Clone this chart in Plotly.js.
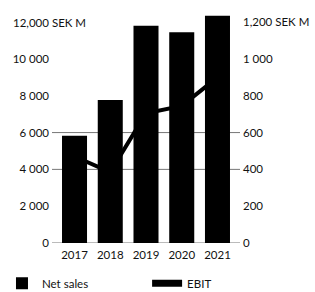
<!DOCTYPE html>
<html><head><meta charset="utf-8">
<script src="https://cdn.plot.ly/plotly-3.0.1.min.js"></script>
<style>html,body{margin:0;padding:0;background:#fff}#chart{width:315px;height:292px}</style>
</head><body><div id="chart"></div>
<script>
const years = ['2017','2018','2019','2020','2021'];
const netSales = [5830, 7770, 11800, 11450, 12350];
const ebit = [470, 385, 705, 745, 900];
const leftTickVals = [0, 2000, 4000, 6000, 8000, 10000];
const leftTickText = ['0', '2 000', '4 000', '6 000', '8 000', '10 000'];
const rightTickVals = [0, 200, 400, 600, 800, 1000, 1200];
const rightTickText = ['0', '200', '400', '600', '800', '1 000', '1,200 SEK M'];
const leftTopLabel = '12,000 SEK M';
const strongGrid = [0, 4000, 6000];

const font = {family: 'Lato, "Open Sans", sans-serif', size: 11.5, color: '#111'};

const traces = [
  {type: 'bar', x: years, y: netSales, name: 'Net sales', marker: {color: '#000'}, width: 0.7, yaxis: 'y', hoverinfo: 'none', legend: 'legend'},
  {type: 'scatter', mode: 'lines', x: years, y: ebit, name: 'EBIT', yaxis: 'y2', line: {color: '#000', width: 4}, showlegend: false, hoverinfo: 'none'},
  {type: 'scatter', mode: 'lines', x: years, y: years.map(() => null), name: 'EBIT', yaxis: 'y2', line: {color: '#000', width: 7}, legend: 'legend2'}
];

const legendBase = {orientation: 'h', xref: 'container', yref: 'container', xanchor: 'left', y: 0.03, yanchor: 'middle', font: font, itemwidth: 30, bgcolor: 'rgba(0,0,0,0)'};

const layout = {
  width: 315, height: 292,
  margin: {l: 52, r: 75, t: 10, b: 49},
  paper_bgcolor: '#fff', plot_bgcolor: '#fff',
  font: font,
  showlegend: true,
  barmode: 'overlay',
  xaxis: {type: 'category', range: [-0.63, 4.63], showgrid: false, zeroline: false, showline: false, ticks: '', tickfont: font, ticklabelstandoff: 3},
  yaxis: {range: [0, 12660], tickvals: leftTickVals, ticktext: leftTickText, showgrid: false, zeroline: false, showline: false, ticks: '', tickfont: font, ticklabelstandoff: 2},
  yaxis2: {range: [0, 1266], overlaying: 'y', side: 'right', tickvals: rightTickVals, ticktext: rightTickText, showgrid: false, zeroline: false, showline: false, ticks: '', tickfont: font, ticklabelstandoff: 2},
  shapes: strongGrid.map(v => ({type: 'line', xref: 'paper', yref: 'y', x0: 0, x1: 1, y0: v, y1: v, line: {color: '#777', width: 1}, layer: 'below'})),
  annotations: [{text: leftTopLabel, xref: 'paper', yref: 'y', x: -0.22, y: 12000, xanchor: 'left', yanchor: 'middle', showarrow: false, font: font}],
  legend: Object.assign({}, legendBase, {x: 0.0063}),
  legend2: Object.assign({}, legendBase, {x: 0.467})
};

Plotly.newPlot('chart', traces, layout, {displayModeBar: false, staticPlot: true});
</script></body></html>
